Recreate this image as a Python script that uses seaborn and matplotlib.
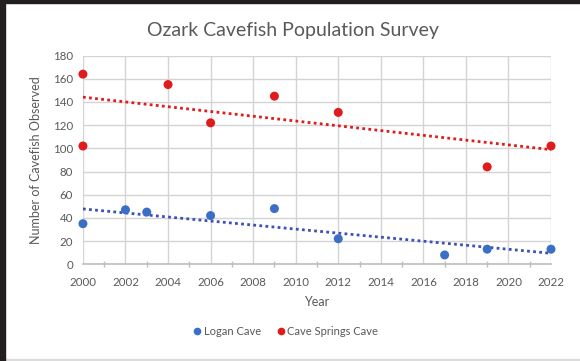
import matplotlib
matplotlib.use("Agg")
import matplotlib.pyplot as plt
from matplotlib.lines import Line2D
from matplotlib.patches import Rectangle
import numpy as np
import pandas as pd
import seaborn as sns

# Survey counts per cave
logan_years = [2000, 2002, 2003, 2006, 2009, 2012, 2017, 2019, 2022]
logan_counts = [35, 47, 45, 42, 48, 22, 8, 13, 13]

springs_years = [2000, 2000, 2004, 2006, 2009, 2012, 2019, 2022]
springs_counts = [164, 102, 155, 122, 145, 131, 84, 102]

series_names = ["Logan Cave", "Cave Springs Cave"]
series_colors = ["#3B6FC6", "#E01B1B"]
trend_colors = ["#3D50B8", "#E01B1B"]

x_ticks = list(range(2000, 2023, 2))
y_ticks = list(range(0, 181, 20))

df = pd.DataFrame({
    "Year": logan_years + springs_years,
    "Count": logan_counts + springs_counts,
    "Cave": [series_names[0]] * len(logan_years) + [series_names[1]] * len(springs_years),
})

sns.set_theme(style="white")
plt.rcParams["font.family"] = ["Lato", "DejaVu Sans"]
text_color = "#595959"

fig = plt.figure(figsize=(5.80, 3.61), dpi=100)
ax = fig.add_axes([0.143, 0.268, 0.807, 0.578])

# Linear trendlines (dotted)
for name, tc in zip(series_names, trend_colors):
    sub = df[df["Cave"] == name]
    sns.regplot(data=sub, x="Year", y="Count", ax=ax, scatter=False, ci=None,
                truncate=True,
                line_kws=dict(color=tc, lw=2.0, ls=(0, (1, 1.2)), zorder=2))

sns.scatterplot(data=df, x="Year", y="Count", hue="Cave", hue_order=series_names,
                palette=series_colors, s=42, edgecolor="none", ax=ax, zorder=3,
                legend=False, clip_on=False)

ax.set_xlim(2000, 2022)
ax.set_ylim(0, 180)
ax.set_xticks(x_ticks)
ax.set_yticks(y_ticks)
ax.set_xticks(range(2000, 2023, 1), minor=True)
ax.grid(True, which="major", color="#D4D4D4", lw=1.0)
ax.set_axisbelow(True)
for s in ["top", "right", "left"]:
    ax.spines[s].set_visible(False)
ax.spines["bottom"].set_color("#BFBFBF")
ax.tick_params(axis="x", which="minor", direction="inout", length=4, color="#BFBFBF",
               bottom=True)
ax.tick_params(axis="x", which="major", direction="inout", length=0, labelsize=8.3,
               labelcolor=text_color, pad=9)
ax.tick_params(axis="y", length=0, labelsize=8.3, labelcolor=text_color, pad=7)

ax.set_xlabel("Year", fontsize=9, color=text_color, labelpad=6)
ax.set_ylabel("Number of Cavefish Observed", fontsize=9, color=text_color, labelpad=8)
fig.text(0.505, 0.915, "Ozark Cavefish Population Survey", ha="center", va="center",
         fontsize=14, color=text_color)

handles = [Line2D([], [], marker="o", ls="none", color=c, markersize=4.5)
           for c in series_colors]
fig.legend(handles, series_names, loc="center", bbox_to_anchor=(0.493, 0.082), ncol=2,
           frameon=False, fontsize=8, labelcolor=text_color, handlelength=0.6,
           handletextpad=0.3, columnspacing=1.5)

# Dark photo frame edges
fig.patches.append(Rectangle((0, 0), 5 / 580, 1, transform=fig.transFigure,
                             color="#221E1F", zorder=10))
fig.patches.append(Rectangle((0, 1 - 3 / 361), 1, 3 / 361, transform=fig.transFigure,
                             color="#221E1F", zorder=10))
fig.patches.append(Rectangle((0, 0), 1, 2 / 361, transform=fig.transFigure,
                             color="#DCDCDC", zorder=9))

fig.savefig("out.png", dpi=100)
